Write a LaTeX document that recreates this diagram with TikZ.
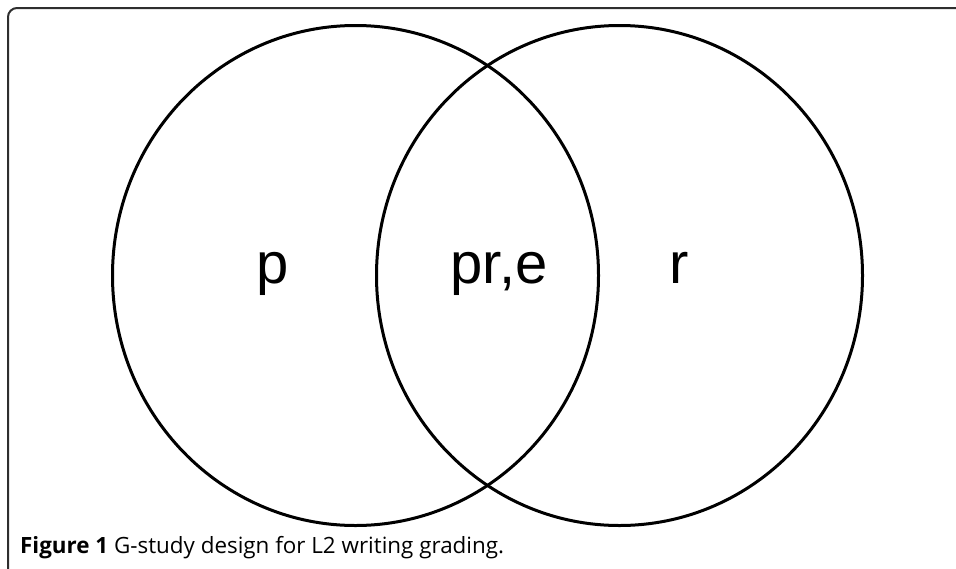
\documentclass[tikz,border=0pt]{standalone}
\usepackage{fontspec}
\setmainfont{Liberation Sans}
\newfontfamily\capfont{Open Sans}
\usepackage{xcolor}
\usetikzlibrary{shapes.geometric,positioning}

\begin{document}
\begin{tikzpicture}[x=1pt,y=-1pt,
  setc/.style={draw,ellipse,line width=3pt,minimum width=486pt,minimum height=500pt,inner sep=0pt},
  lbl/.style={font=\fontsize{58}{60}\selectfont,inner sep=0pt,anchor=base},
  captxt/.style={font=\capfont\fontsize{22.4}{24}\selectfont,text=black,inner sep=0pt,anchor=base west}]
\useasboundingbox (0,0) rectangle (956,568);
\draw[line width=2pt,black!82,rounded corners=9pt] (8,570) -- (8,8) -- (958,8);
\node[setc] (pset) at (355.5,275.5) {};
\node[setc] (rset) at (619.5,275.5) {};
\node[lbl] (p) at (273,283) {p};
\node[lbl] (pre) at (499,283) {pr,e};
\node[lbl] (r) at (679,283) {r};
\node[captxt] (caption) at (20,553) {\textbf{Figure 1} G-study design for L2 writing grading.};
\end{tikzpicture}
\end{document}
